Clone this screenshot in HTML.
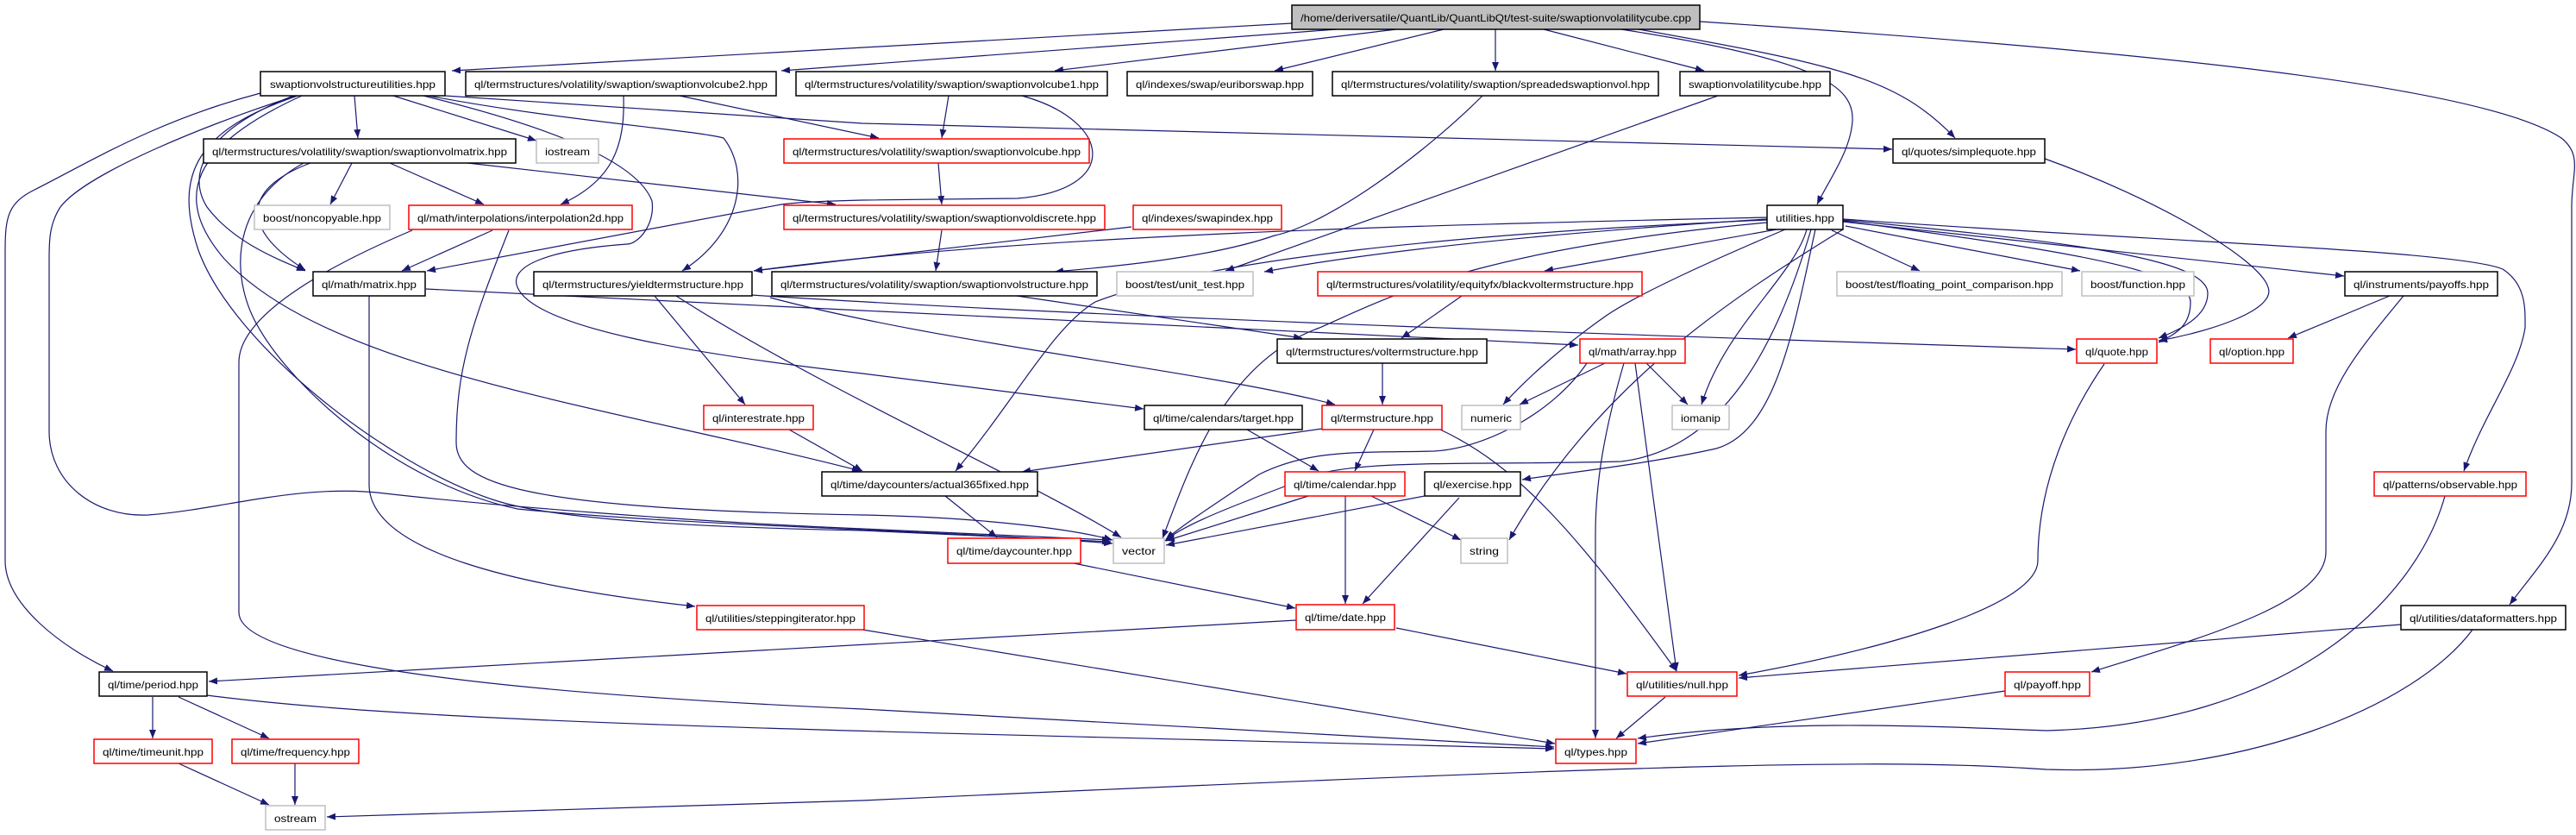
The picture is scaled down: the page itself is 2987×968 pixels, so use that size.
<!DOCTYPE html>
<html><head><meta charset="utf-8"><style>
html,body{margin:0;padding:0;background:#fff;}
svg{display:block;}
text{font-family:"Liberation Sans",sans-serif;font-size:12px;fill:#000;}
</style></head><body>
<svg width="2987" height="968" viewBox="0 0 2987 968" xmlns="http://www.w3.org/2000/svg">
<defs>
<marker id="a" markerUnits="userSpaceOnUse" markerWidth="11" markerHeight="8" refX="10" refY="4" orient="auto">
<path d="M0,0 L10,4 L0,8 z" fill="#191970"/>
</marker>
</defs>
<g fill="none" stroke="#191970" stroke-width="1.2" marker-end="url(#a)">
<path d="M1498,27 L524,82"/>
<path d="M1550,34 L906,82"/>
<path d="M1619,34 L1223,82"/>
<path d="M1674,34 L1478,82"/>
<path d="M1734,34 L1734,82"/>
<path d="M1790,34 L1976,82"/>
<path d="M1880,34 C2110,70 2150,100 2148,140 C2146,175 2120,210 2107,237"/>
<path d="M1900,34 C2130,75 2200,90 2267,160"/>
<path d="M1971,25 C2500,60 2880,100 2970,160 C2995,180 2982,200 2982,240 L2982,560 C2982,620 2940,660 2910,701"/>
<path d="M302,108 C180,140 100,190 40,220 C10,235 6,250 6,290 L6,650 C6,700 70,750 131,778"/>
<path d="M344,111 C250,140 100,200 70,240 C57,260 57,280 57,300 L57,500 C57,560 110,600 172,597 C260,590 350,560 446,572 C560,585 800,605 1000,613 L1288,626"/>
<path d="M350,111 C220,170 200,230 260,300 C380,430 700,470 998,546"/>
<path d="M345,111 C230,150 200,200 230,290 C270,400 450,540 574,580 C650,605 850,612 1000,615 L1288,628"/>
<path d="M340,111 C240,150 215,200 240,240 C270,280 320,300 354,314"/>
<path d="M411,111 L415,160"/>
<path d="M456,111 L622,163"/>
<path d="M497,111 C650,140 800,150 839,160 C870,200 860,270 791,314"/>
<path d="M516,111 L1000,143 L2194,173"/>
<path d="M491,111 C650,150 740,190 756,233 C760,260 740,283 727,283 C630,290 590,310 600,333 C620,380 800,410 1000,433 L1326,474"/>
<path d="M723,111 C725,170 710,210 650,237"/>
<path d="M788,111 L1019,160"/>
<path d="M1100,111 L1092,160"/>
<path d="M1185,111 C1290,140 1300,220 1180,230 L1000,232 C960,233 920,235 906,237 L495,314"/>
<path d="M408,189 L383,237"/>
<path d="M452,189 L561,237"/>
<path d="M542,189 L969,237"/>
<path d="M360,189 C290,215 270,260 354,313"/>
<path d="M352,189 C260,240 270,330 300,380 C340,450 460,560 600,590 C800,610 1100,615 1290,630"/>
<path d="M571,267 L466,314"/>
<path d="M478,267 C400,300 277,360 277,420 L277,710 C277,760 500,800 1000,822 L1802,866"/>
<path d="M590,267 C545,380 529,430 529,513 C529,560 600,590 1000,597 C1150,600 1250,615 1290,626"/>
<path d="M1088,189 L1092,237"/>
<path d="M1092,267 L1085,314"/>
<path d="M1312,263 L874,314"/>
<path d="M1719,111 C1650,180 1540,260 1478,273 C1400,300 1280,310 1223,315"/>
<path d="M1992,111 L1421,314"/>
<path d="M2049,252 C1700,260 1200,270 874,314"/>
<path d="M2049,254 C1800,270 1600,290 1466,315"/>
<path d="M2060,266 L1791,314"/>
<path d="M2070,266 C1990,300 1900,340 1861,367 C1800,410 1760,450 1743,469"/>
<path d="M2095,266 C2080,320 2000,380 1973,469"/>
<path d="M2049,255 C1700,270 1400,300 1270,350 C1220,380 1180,460 1108,546"/>
<path d="M2049,258 C1700,290 1600,350 1530,380 C1420,420 1380,540 1348,624"/>
<path d="M2100,266 C2060,400 2000,520 1880,535 C1700,540 1550,530 1500,560 C1420,590 1370,610 1351,627"/>
<path d="M2124,267 L2226,314"/>
<path d="M2140,262 L2412,314"/>
<path d="M2137,257 L2718,320"/>
<path d="M2137,255 C2400,280 2560,300 2560,340 C2560,370 2520,385 2503,392"/>
<path d="M2137,256 C2350,285 2540,310 2540,350 C2540,380 2520,388 2503,397"/>
<path d="M2137,254 C2500,280 2850,290 2902,312 C2930,330 2928,360 2928,380 C2920,430 2880,480 2857,546"/>
<path d="M2137,266 C2000,350 1850,450 1750,626"/>
<path d="M2105,266 C2080,380 2060,500 1990,520 C1900,540 1800,550 1765,556"/>
<path d="M428,343 L428,563 C430,640 600,680 806,703"/>
<path d="M494,335 L1000,360 L1830,400"/>
<path d="M759,343 L864,469"/>
<path d="M784,343 C950,450 1200,560 1300,623"/>
<path d="M871,342 C1300,370 2000,392 2407,405"/>
<path d="M893,345 C1100,400 1400,430 1548,469"/>
<path d="M1179,343 L1510,392"/>
<path d="M1695,343 L1625,392"/>
<path d="M1603,421 L1603,469"/>
<path d="M915,498 L1000,546"/>
<path d="M1533,497 L1185,547"/>
<path d="M1593,498 L1571,546"/>
<path d="M1670,498 C1760,540 1830,620 1944,778"/>
<path d="M1446,498 L1529,546"/>
<path d="M1517,575 L1352,627"/>
<path d="M1560,575 L1560,700"/>
<path d="M1590,575 L1694,626"/>
<path d="M1652,575 L1352,632"/>
<path d="M1692,577 L1580,700"/>
<path d="M1096,575 L1156,623"/>
<path d="M1245,653 L1502,705"/>
<path d="M1503,719 L242,790"/>
<path d="M1619,728 L1886,781"/>
<path d="M1931,808 L1874,856"/>
<path d="M1000,730 L1803,862"/>
<path d="M2440,422 C2400,480 2363,560 2363,650 C2363,700 2200,750 2016,783"/>
<path d="M2771,343 L2653,392"/>
<path d="M2787,343 C2740,400 2697,450 2697,500 L2697,640 C2697,700 2550,740 2425,779"/>
<path d="M2835,575 C2800,700 2650,840 2373,847 C2200,840 2050,835 1899,856"/>
<path d="M2325,801 L1899,862"/>
<path d="M2784,724 L2016,786"/>
<path d="M2867,730 C2800,820 2600,900 2373,892 C2200,880 2000,882 1000,928 L379,947"/>
<path d="M177,808 L177,856"/>
<path d="M207,808 L312,856"/>
<path d="M240,806 C500,840 1000,847 1802,868"/>
<path d="M207,885 L312,933"/>
<path d="M342,885 L342,933"/>
<path d="M2371,184 C2500,230 2620,300 2630,333 C2640,360 2560,385 2503,395"/>
<path d="M1883,421 C1860,500 1850,560 1850,620 L1850,856"/>
<path d="M1896,421 L1944,778"/>
<path d="M1861,421 L1762,469"/>
<path d="M1909,421 L1957,469"/>
<path d="M1840,421 C1800,480 1720,520 1663,523 C1580,525 1520,520 1460,550 C1400,590 1370,610 1352,625"/>
</g>
<g stroke-width="1.5">
<rect x="1498" y="6" width="473" height="28" fill="#bfbfbf" stroke="#000"/>
<g fill="#fff" stroke="#000">
<rect x="302" y="83" width="214" height="28"/>
<rect x="540" y="83" width="360" height="28"/>
<rect x="923" y="83" width="361" height="28"/>
<rect x="1307" y="83" width="215" height="28"/>
<rect x="1545" y="83" width="378" height="28"/>
<rect x="1948" y="83" width="174" height="28"/>
<rect x="236" y="161" width="362" height="28"/>
<rect x="2195" y="161" width="176" height="28"/>
<rect x="2049" y="238" width="88" height="28"/>
<rect x="363" y="315" width="130" height="28"/>
<rect x="619" y="315" width="253" height="28"/>
<rect x="895" y="315" width="377" height="28"/>
<rect x="2719" y="315" width="177" height="28"/>
<rect x="1481" y="393" width="243" height="28"/>
<rect x="1327" y="470" width="183" height="28"/>
<rect x="953" y="547" width="250" height="28"/>
<rect x="1652" y="547" width="111" height="28"/>
<rect x="2784" y="702" width="191" height="28"/>
<rect x="115" y="779" width="125" height="28"/>
</g>
<g fill="#fff" stroke="#ff0000">
<rect x="909" y="161" width="354" height="28"/>
<rect x="474" y="238" width="259" height="28"/>
<rect x="909" y="238" width="372" height="28"/>
<rect x="1314" y="238" width="172" height="28"/>
<rect x="1528" y="315" width="376" height="28"/>
<rect x="1832" y="393" width="122" height="28"/>
<rect x="2408" y="393" width="93" height="28"/>
<rect x="2563" y="393" width="96" height="28"/>
<rect x="816" y="470" width="127" height="28"/>
<rect x="1533" y="470" width="139" height="28"/>
<rect x="1490" y="547" width="139" height="28"/>
<rect x="2753" y="547" width="176" height="28"/>
<rect x="1099" y="624" width="154" height="29"/>
<rect x="808" y="702" width="194" height="28"/>
<rect x="1503" y="701" width="114" height="29"/>
<rect x="1887" y="779" width="127" height="28"/>
<rect x="2325" y="779" width="98" height="28"/>
<rect x="109" y="857" width="137" height="28"/>
<rect x="269" y="857" width="147" height="28"/>
<rect x="1804" y="857" width="93" height="28"/>
</g>
<g fill="#fff" stroke="#bfbfbf">
<rect x="622" y="161" width="72" height="28"/>
<rect x="295" y="238" width="157" height="28"/>
<rect x="1295" y="315" width="158" height="28"/>
<rect x="2130" y="315" width="261" height="28"/>
<rect x="2414" y="315" width="130" height="28"/>
<rect x="1695" y="470" width="68" height="28"/>
<rect x="1939" y="470" width="66" height="28"/>
<rect x="1291" y="624" width="59" height="29"/>
<rect x="1694" y="624" width="54" height="29"/>
<rect x="308" y="934" width="69" height="28"/>
</g>
</g>
<g text-anchor="start" lengthAdjust="spacingAndGlyphs">
<text x="1508" y="25" textLength="453" lengthAdjust="spacingAndGlyphs">/home/deriversatile/QuantLib/QuantLibQt/test-suite/swaptionvolatilitycube.cpp</text>
<text x="313" y="102" textLength="192" lengthAdjust="spacingAndGlyphs">swaptionvolstructureutilities.hpp</text>
<text x="550" y="102" textLength="340" lengthAdjust="spacingAndGlyphs">ql/termstructures/volatility/swaption/swaptionvolcube2.hpp</text>
<text x="933" y="102" textLength="341" lengthAdjust="spacingAndGlyphs">ql/termstructures/volatility/swaption/swaptionvolcube1.hpp</text>
<text x="1317" y="102" textLength="195" lengthAdjust="spacingAndGlyphs">ql/indexes/swap/euriborswap.hpp</text>
<text x="1555" y="102" textLength="358" lengthAdjust="spacingAndGlyphs">ql/termstructures/volatility/swaption/spreadedswaptionvol.hpp</text>
<text x="1958" y="102" textLength="154" lengthAdjust="spacingAndGlyphs">swaptionvolatilitycube.hpp</text>
<text x="246" y="180" textLength="342" lengthAdjust="spacingAndGlyphs">ql/termstructures/volatility/swaption/swaptionvolmatrix.hpp</text>
<text x="632" y="180" textLength="52" lengthAdjust="spacingAndGlyphs">iostream</text>
<text x="919" y="180" textLength="334" lengthAdjust="spacingAndGlyphs">ql/termstructures/volatility/swaption/swaptionvolcube.hpp</text>
<text x="2205" y="180" textLength="156" lengthAdjust="spacingAndGlyphs">ql/quotes/simplequote.hpp</text>
<text x="305" y="257" textLength="137" lengthAdjust="spacingAndGlyphs">boost/noncopyable.hpp</text>
<text x="484" y="257" textLength="239" lengthAdjust="spacingAndGlyphs">ql/math/interpolations/interpolation2d.hpp</text>
<text x="919" y="257" textLength="352" lengthAdjust="spacingAndGlyphs">ql/termstructures/volatility/swaption/swaptionvoldiscrete.hpp</text>
<text x="1324" y="257" textLength="152" lengthAdjust="spacingAndGlyphs">ql/indexes/swapindex.hpp</text>
<text x="2059" y="257" textLength="68" lengthAdjust="spacingAndGlyphs">utilities.hpp</text>
<text x="373" y="334" textLength="110" lengthAdjust="spacingAndGlyphs">ql/math/matrix.hpp</text>
<text x="629" y="334" textLength="233" lengthAdjust="spacingAndGlyphs">ql/termstructures/yieldtermstructure.hpp</text>
<text x="905" y="334" textLength="357" lengthAdjust="spacingAndGlyphs">ql/termstructures/volatility/swaption/swaptionvolstructure.hpp</text>
<text x="1305" y="334" textLength="138" lengthAdjust="spacingAndGlyphs">boost/test/unit_test.hpp</text>
<text x="1538" y="334" textLength="356" lengthAdjust="spacingAndGlyphs">ql/termstructures/volatility/equityfx/blackvoltermstructure.hpp</text>
<text x="2140" y="334" textLength="241" lengthAdjust="spacingAndGlyphs">boost/test/floating_point_comparison.hpp</text>
<text x="2424" y="334" textLength="110" lengthAdjust="spacingAndGlyphs">boost/function.hpp</text>
<text x="2729" y="334" textLength="157" lengthAdjust="spacingAndGlyphs">ql/instruments/payoffs.hpp</text>
<text x="1491" y="412" textLength="223" lengthAdjust="spacingAndGlyphs">ql/termstructures/voltermstructure.hpp</text>
<text x="1842" y="412" textLength="102" lengthAdjust="spacingAndGlyphs">ql/math/array.hpp</text>
<text x="2418" y="412" textLength="73" lengthAdjust="spacingAndGlyphs">ql/quote.hpp</text>
<text x="2573" y="412" textLength="76" lengthAdjust="spacingAndGlyphs">ql/option.hpp</text>
<text x="826" y="489" textLength="107" lengthAdjust="spacingAndGlyphs">ql/interestrate.hpp</text>
<text x="1337" y="489" textLength="163" lengthAdjust="spacingAndGlyphs">ql/time/calendars/target.hpp</text>
<text x="1543" y="489" textLength="119" lengthAdjust="spacingAndGlyphs">ql/termstructure.hpp</text>
<text x="1705" y="489" textLength="48" lengthAdjust="spacingAndGlyphs">numeric</text>
<text x="1949" y="489" textLength="46" lengthAdjust="spacingAndGlyphs">iomanip</text>
<text x="963" y="566" textLength="230" lengthAdjust="spacingAndGlyphs">ql/time/daycounters/actual365fixed.hpp</text>
<text x="1500" y="566" textLength="119" lengthAdjust="spacingAndGlyphs">ql/time/calendar.hpp</text>
<text x="1662" y="566" textLength="91" lengthAdjust="spacingAndGlyphs">ql/exercise.hpp</text>
<text x="2763" y="566" textLength="156" lengthAdjust="spacingAndGlyphs">ql/patterns/observable.hpp</text>
<text x="1109" y="643" textLength="134" lengthAdjust="spacingAndGlyphs">ql/time/daycounter.hpp</text>
<text x="1301" y="643" textLength="39" lengthAdjust="spacingAndGlyphs">vector</text>
<text x="1704" y="643" textLength="34" lengthAdjust="spacingAndGlyphs">string</text>
<text x="818" y="721" textLength="174" lengthAdjust="spacingAndGlyphs">ql/utilities/steppingiterator.hpp</text>
<text x="1513" y="720" textLength="94" lengthAdjust="spacingAndGlyphs">ql/time/date.hpp</text>
<text x="2794" y="721" textLength="171" lengthAdjust="spacingAndGlyphs">ql/utilities/dataformatters.hpp</text>
<text x="125" y="798" textLength="105" lengthAdjust="spacingAndGlyphs">ql/time/period.hpp</text>
<text x="1897" y="798" textLength="107" lengthAdjust="spacingAndGlyphs">ql/utilities/null.hpp</text>
<text x="2335" y="798" textLength="78" lengthAdjust="spacingAndGlyphs">ql/payoff.hpp</text>
<text x="119" y="876" textLength="117" lengthAdjust="spacingAndGlyphs">ql/time/timeunit.hpp</text>
<text x="279" y="876" textLength="127" lengthAdjust="spacingAndGlyphs">ql/time/frequency.hpp</text>
<text x="1814" y="876" textLength="73" lengthAdjust="spacingAndGlyphs">ql/types.hpp</text>
<text x="318" y="953" textLength="49" lengthAdjust="spacingAndGlyphs">ostream</text>
</g>
</svg>
</body></html>
